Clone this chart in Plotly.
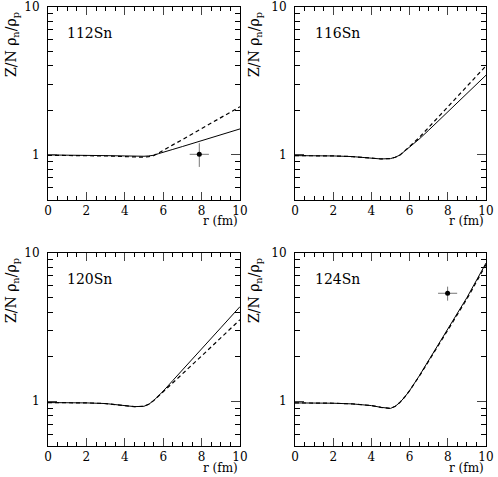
import plotly.graph_objects as go
from plotly.subplots import make_subplots

r = [0, 1, 2, 3, 4, 4.5, 5, 5.25, 5.5, 5.75, 6, 6.5, 7, 8, 9, 10]

sn112_solid = [1.0, 1.0, 0.995, 0.99, 0.985, 0.98, 0.98, 0.985, 0.995, 1.02, 1.04, 1.09, 1.14, 1.25, 1.37, 1.50]
sn112_dash = [0.995, 0.995, 0.99, 0.985, 0.975, 0.97, 0.965, 0.975, 0.99, 1.03, 1.07, 1.17, 1.27, 1.51, 1.79, 2.12]
sn116_solid = [0.99, 0.99, 0.985, 0.975, 0.955, 0.94, 0.945, 0.965, 1.0, 1.06, 1.13, 1.28, 1.47, 1.95, 2.6, 3.46]
sn116_dash = [0.99, 0.99, 0.985, 0.975, 0.955, 0.94, 0.945, 0.965, 1.0, 1.06, 1.14, 1.31, 1.54, 2.12, 2.92, 4.0]
sn120_solid = [0.98, 0.98, 0.975, 0.965, 0.94, 0.92, 0.925, 0.955, 1.01, 1.08, 1.17, 1.38, 1.62, 2.25, 3.13, 4.35]
sn120_dash = [0.98, 0.98, 0.975, 0.965, 0.94, 0.92, 0.925, 0.955, 1.01, 1.08, 1.16, 1.33, 1.53, 2.02, 2.68, 3.55]
sn124_solid = [0.975, 0.975, 0.97, 0.96, 0.935, 0.91, 0.895, 0.925, 0.985, 1.07, 1.18, 1.48, 1.88, 3.08, 5.0, 8.55]
sn124_dash = [0.975, 0.975, 0.97, 0.96, 0.935, 0.91, 0.895, 0.925, 0.985, 1.07, 1.18, 1.47, 1.86, 3.02, 4.9, 8.35]

# measured points: r, value, r error, value error up / down
exp112 = dict(r=[7.88], v=[1.01], rerr=[0.5], vup=[0.19], vdn=[0.18])
exp124 = dict(r=[7.99], v=[5.35], rerr=[0.5], vup=[0.58], vdn=[0.58])

labels = ["112Sn", "116Sn", "120Sn", "124Sn"]
panels = [(sn112_solid, sn112_dash, exp112), (sn116_solid, sn116_dash, None),
          (sn120_solid, sn120_dash, None), (sn124_solid, sn124_dash, exp124)]

W, H = 498, 477
FONT = "DejaVu Serif"

fig = make_subplots(rows=2, cols=2)

for i, (solid, dash, exp) in enumerate(panels):
    row, col = i // 2 + 1, i % 2 + 1
    fig.add_trace(go.Scatter(x=r, y=solid, mode="lines",
                             line=dict(color="black", width=1)), row=row, col=col)
    fig.add_trace(go.Scatter(x=r, y=dash, mode="lines",
                             line=dict(color="black", width=1.2, dash="4px,3px")), row=row, col=col)
    if exp:
        fig.add_trace(go.Scatter(
            x=exp["r"], y=exp["v"], mode="markers",
            marker=dict(color="black", size=5),
            error_x=dict(type="data", array=exp["rerr"], color="#777", thickness=1, width=0),
            error_y=dict(type="data", array=exp["vup"], arrayminus=exp["vdn"],
                         color="#777", thickness=1, width=0)), row=row, col=col)

xdom = [[48 / W, 240 / W], [295 / W, 486 / W]]
ydom = [[1 - 199.5 / H, 1 - 7 / H], [1 - 445.9 / H, 1 - 253 / H]]

for i in range(4):
    row, col = i // 2, i % 2
    n = "" if i == 0 else str(i + 1)
    fig.layout["xaxis" + n].update(
        domain=xdom[col], range=[0, 10], dtick=2, tick0=0,
        ticks="inside", ticklen=8, showline=True, linecolor="black", linewidth=1,
        mirror="ticks", showgrid=False, zeroline=False, automargin=False,
        ticklabeloverflow="allow",
        minor=dict(dtick=0.5, ticks="inside", ticklen=4, tickcolor="black", showgrid=False),
        tickfont=dict(family=FONT, size=12, color="black"))
    fig.layout["yaxis" + n].update(
        domain=ydom[row], type="log", range=[-0.30103, 1],
        tickvals=[1, 10], ticktext=["1", "10"],
        ticks="inside", ticklen=9, showline=True, linecolor="black", linewidth=1,
        mirror="ticks", showgrid=False, zeroline=False, ticklabelstandoff=5, automargin=False,
        ticklabeloverflow="allow",
        minor=dict(tickvals=[0.5, 0.6, 0.7, 0.8, 0.9, 2, 3, 4, 5, 6, 7, 8, 9],
                   ticks="inside", ticklen=5, tickcolor="black", showgrid=False),
        tickfont=dict(family=FONT, size=12, color="black"))

anns = []
lab_pos = [(65, 33), (313, 33), (65, 279), (313, 279)]
title_pos = [(12, 45), (255, 45), (12, 291), (255, 291)]
rfm_pos = [(240, 221), (486, 221), (240, 468), (486, 468)]
for i in range(4):
    lx, ly = lab_pos[i]
    anns.append(dict(x=lx / W, y=1 - ly / H, xref="paper", yref="paper", text=labels[i],
                     showarrow=False, xanchor="left", yanchor="middle",
                     font=dict(family=FONT, size=14, color="black")))
    tx, ty = title_pos[i]
    anns.append(dict(x=tx / W, y=1 - ty / H, xref="paper", yref="paper",
                     text="Z/N ρ<sub>n</sub>/ρ<sub>p</sub>", textangle=-90,
                     showarrow=False, xanchor="center", yanchor="middle",
                     font=dict(family=FONT, size=14, color="black")))
    fx, fy = rfm_pos[i]
    anns.append(dict(x=fx / W, y=1 - fy / H, xref="paper", yref="paper", text="r (fm)",
                     showarrow=False, xanchor="right", yanchor="middle",
                     font=dict(family=FONT, size=12, color="black")))

fig.update_layout(width=W, height=H, margin=dict(l=0, r=0, t=0, b=0, pad=0),
                  paper_bgcolor="white", plot_bgcolor="white",
                  showlegend=False, annotations=anns)

fig.write_html("out.html", config={"displayModeBar": False},
               post_script="document.body.style.margin='0px';")
